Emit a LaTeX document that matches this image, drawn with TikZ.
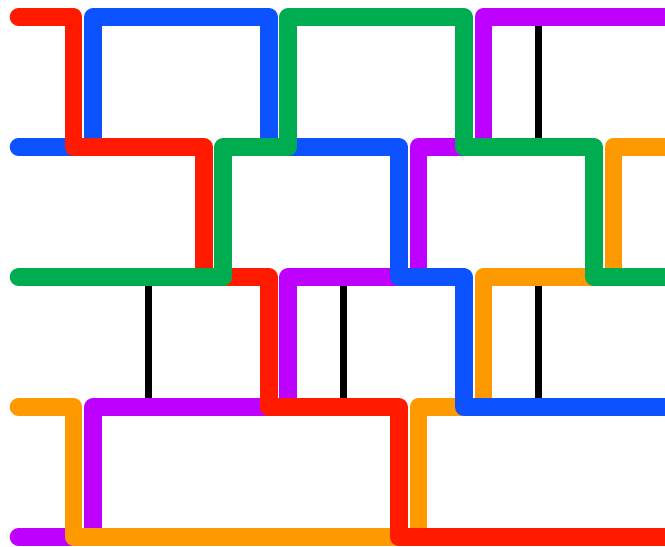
\documentclass[tikz,border=0pt]{standalone}
\usepackage{tikz}

\definecolor{wred}{RGB}{255,26,0}
\definecolor{wblue}{RGB}{12,82,255}
\definecolor{wgreen}{RGB}{0,172,80}
\definecolor{wpurple}{RGB}{190,0,255}
\definecolor{worange}{RGB}{255,153,0}

\begin{document}
\begin{tikzpicture}[x=1.3cm,y=1.3cm,
    wire/.style={line width=0.35cm,line cap=round,line join=round},
    rung/.style={line width=0.14cm,black}]
	\clip (-1.2846,0.2615) rectangle (8.9462,-8.1538);

	\foreach \x/\y in {1/-4,4/-4,7/0,7/-4}
		\draw[rung] (\x,\y) -- (\x,\y-2);

	\draw[wire,wpurple] (-1,-8) -- (0.15,-8) -- (0.15,-6) -- (3.15,-6) -- (3.15,-4) -- (5.15,-4) -- (5.15,-2) -- (6.15,-2) -- (6.15,0) -- (9.5,0);
	\draw[wire,worange] (-1,-6) -- (-0.15,-6) -- (-0.15,-8) -- (5.15,-8) -- (5.15,-6) -- (6.15,-6) -- (6.15,-4) -- (8.15,-4) -- (8.15,-2) -- (9.5,-2);
	\draw[wire,wblue] (-1,-2) -- (0.15,-2) -- (0.15,0) -- (2.85,0) -- (2.85,-2) -- (4.85,-2) -- (4.85,-4) -- (5.85,-4) -- (5.85,-6) -- (9.5,-6);
	\draw[wire,wred] (-1,0) -- (-0.15,0) -- (-0.15,-2) -- (1.85,-2) -- (1.85,-4) -- (2.85,-4) -- (2.85,-6) -- (4.85,-6) -- (4.85,-8) -- (9.5,-8);
	\draw[wire,wgreen] (-1,-4) -- (2.15,-4) -- (2.15,-2) -- (3.15,-2) -- (3.15,0) -- (5.85,0) -- (5.85,-2) -- (7.85,-2) -- (7.85,-4) -- (9.5,-4);
\end{tikzpicture}
\end{document}
